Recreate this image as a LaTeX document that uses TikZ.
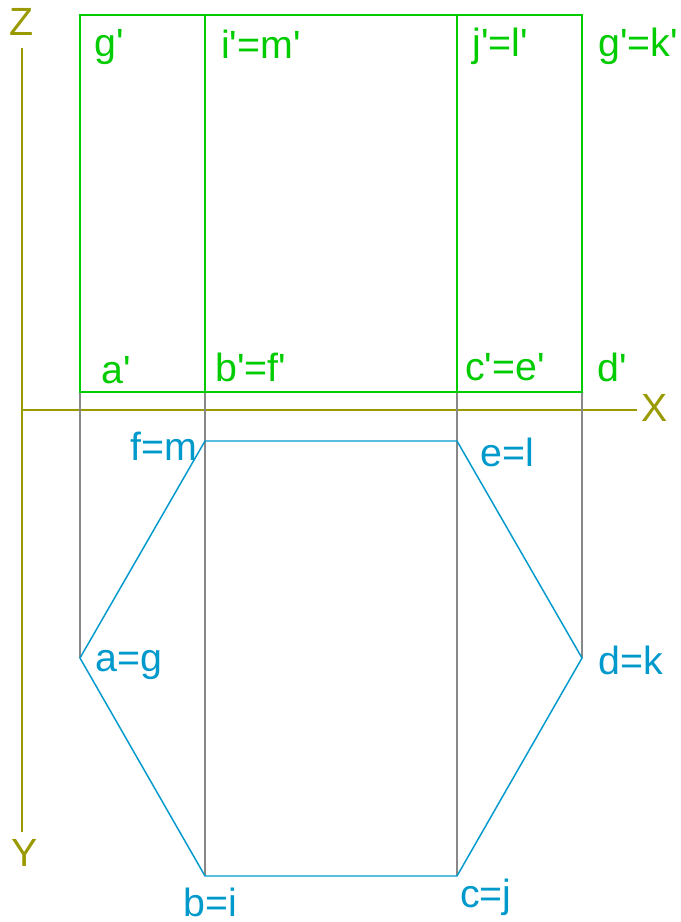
\documentclass[tikz,border=0pt]{standalone}
\usepackage{fontspec}
\setmainfont{Liberation Sans}[Ligatures=TeXOff]
\definecolor{axiscol}{RGB}{153,153,0}
\definecolor{frontcol}{RGB}{0,204,0}
\definecolor{plancol}{RGB}{0,153,204}
\definecolor{linkcol}{RGB}{136,136,136}
\tikzset{
    lab/.style={font=\fontsize{29.5}{30}\selectfont,inner sep=0pt},
    axislab/.style={lab,text=axiscol},
    frontlab/.style={lab,text=frontcol},
    planlab/.style={lab,text=plancol},
    axisline/.style={axiscol,line width=1.2pt},
    frontline/.style={frontcol,line width=1.2pt},
    planline/.style={plancol,line width=1.1pt},
    linkline/.style={linkcol,line width=1.2pt}
}
\begin{document}
\begin{tikzpicture}[x=0.75pt,y=-0.75pt]
    \useasboundingbox (0,0) rectangle (681,922);
    % axes
    \coordinate (zend) at (22,48);
    \coordinate (yend) at (22,832);
    \coordinate (xbeg) at (22,410);
    \coordinate (xend) at (637,410);
    \draw[axisline](zend)--(yend);
    \draw[axisline](xbeg)--(xend);
    \node[axislab] (zlab) at (22,22){Z};
    \node[axislab] (ylab) at (25,853){Y};
    \node[axislab] (xlab) at (655,408){X};
    % front view corners
    \coordinate (gt) at (80,15);
    \coordinate (it) at (205,15);
    \coordinate (jt) at (457,15);
    \coordinate (kt) at (582,15);
    \coordinate (ab) at (80,392);
    \coordinate (bb) at (205,392);
    \coordinate (cb) at (457,392);
    \coordinate (db) at (582,392);
    % plan view corners
    \coordinate (f) at (205,441);
    \coordinate (e) at (457,441);
    \coordinate (a) at (80,658);
    \coordinate (d) at (582,658);
    \coordinate (b) at (205,876);
    \coordinate (c) at (457,876);
    % links
    \draw[linkline](ab)--(a);
    \draw[linkline](bb)--(b);
    \draw[linkline](cb)--(c);
    \draw[linkline](db)--(d);
    % front view
    \draw[frontline](gt)--(kt)--(db)--(ab)--cycle;
    \draw[frontline](it)--(bb);
    \draw[frontline](jt)--(cb);
    % plan view
    \draw[planline](f)--(e)--(d)--(c)--(b)--(a)--cycle;
    % labels
    \node[frontlab] (gp) at (109,47){g'};
    \node[frontlab] (imp) at (261,44){i'=m'};
    \node[frontlab] (jlp) at (500,46){j'=l'};
    \node[frontlab] (gkp) at (638,46){g'=k'};
    \node[frontlab] (ap) at (116,370){a'};
    \node[frontlab] (bfp) at (251,367){b'=f'};
    \node[frontlab] (cep) at (505,367){c'=e'};
    \node[frontlab] (dp) at (612,367){d'};
    \node[planlab] (fm) at (164,446){f=m};
    \node[planlab] (el) at (507,452){e=l};
    \node[planlab] (ag) at (129,665){a=g};
    \node[planlab] (dk) at (631,660){d=k};
    \node[planlab] (bi) at (210,902){b=i};
    \node[planlab] (cj) at (486,897){c=j};
\end{tikzpicture}
\end{document}
